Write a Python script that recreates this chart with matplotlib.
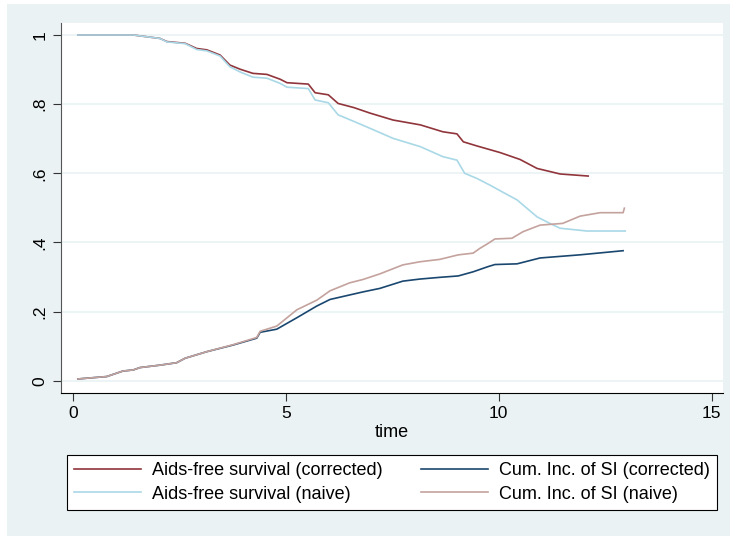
import matplotlib
matplotlib.use("Agg")
import matplotlib.pyplot as plt
from matplotlib.patches import Rectangle

plt.rcParams['font.family'] = ['Liberation Sans', 'DejaVu Sans']

# values
t_surv_corr = [0.12, 1.42, 1.8, 2.05, 2.21, 2.64, 2.91, 3.15, 3.46, 3.69, 3.93, 4.23,
               4.56, 4.87, 5.03, 5.53, 5.69, 6.0, 6.23, 6.6, 6.98, 7.52, 8.16, 8.69,
               9.02, 9.17, 9.49, 10.03, 10.5, 10.9, 11.44, 12.1]
surv_corr = [1.0, 1.0, 0.994, 0.990, 0.981, 0.976, 0.961, 0.957, 0.942, 0.913, 0.901, 0.889,
             0.886, 0.872, 0.862, 0.858, 0.833, 0.827, 0.802, 0.79, 0.774, 0.754, 0.740, 0.720,
             0.714, 0.691, 0.679, 0.660, 0.64, 0.614, 0.598, 0.592]

t_surv_naive = [0.12, 1.42, 1.8, 2.05, 2.21, 2.64, 2.91, 3.15, 3.46, 3.69, 3.93, 4.23,
                4.56, 4.87, 5.03, 5.53, 5.69, 6.0, 6.23, 6.6, 6.98, 7.52, 8.16, 8.69,
                9.02, 9.2, 9.49, 9.79, 10.1, 10.43, 10.9, 11.2, 11.44, 12.07, 12.97]
surv_naive = [1.0, 1.0, 0.994, 0.990, 0.980, 0.975, 0.958, 0.954, 0.939, 0.908, 0.893, 0.878,
              0.875, 0.860, 0.849, 0.845, 0.812, 0.804, 0.769, 0.75, 0.730, 0.701, 0.677, 0.648,
              0.638, 0.600, 0.585, 0.566, 0.545, 0.523, 0.474, 0.455, 0.441, 0.433, 0.433]

t_ci_corr = [0.12, 0.8, 1.18, 1.42, 1.58, 2.05, 2.44, 2.64, 3.15, 3.76, 4.32, 4.4, 4.79,
             5.26, 5.73, 6.04, 6.5, 6.82, 7.21, 7.75, 8.15, 8.62, 9.05, 9.4, 9.75, 9.91,
             10.43, 10.97, 11.9, 12.92]
ci_corr = [0.005, 0.012, 0.028, 0.031, 0.038, 0.045, 0.052, 0.065, 0.084, 0.103, 0.123, 0.140, 0.149,
           0.182, 0.216, 0.235, 0.248, 0.257, 0.267, 0.288, 0.294, 0.299, 0.303, 0.315, 0.330, 0.336,
           0.338, 0.355, 0.364, 0.376]

t_ci_naive = [0.12, 0.8, 1.18, 1.42, 1.58, 2.05, 2.44, 2.64, 3.15, 3.76, 4.32, 4.4, 4.79,
              5.26, 5.73, 6.04, 6.5, 6.82, 7.21, 7.75, 8.15, 8.62, 9.05, 9.4, 9.56, 9.75,
              9.91, 10.31, 10.57, 10.97, 11.5, 11.91, 12.38, 12.92, 12.95]
ci_naive = [0.005, 0.012, 0.028, 0.031, 0.038, 0.045, 0.052, 0.065, 0.084, 0.104, 0.125, 0.143, 0.158,
            0.205, 0.233, 0.260, 0.283, 0.293, 0.309, 0.335, 0.344, 0.351, 0.364, 0.369, 0.383, 0.397,
            0.410, 0.412, 0.431, 0.450, 0.455, 0.476, 0.486, 0.486, 0.499]

labels = ['Aids-free survival (corrected)', 'Aids-free survival (naive)',
          'Cum. Inc. of SI (corrected)', 'Cum. Inc. of SI (naive)']
xticks = [0, 5, 10, 15]
yticks = [0, 0.2, 0.4, 0.6, 0.8, 1]
yticklabels = ['0', '.2', '.4', '.6', '.8', '1']

bg = '#eaf2f3'
W, H = 730, 536
fig = plt.figure(figsize=(W / 100, H / 100), dpi=100)
fig.patch.set_facecolor('white')
fig.patches.append(Rectangle((7 / W, 0), 1, 1 - 4 / H, transform=fig.transFigure,
                             facecolor=bg, edgecolor='none', zorder=-10))

ax = fig.add_axes([61 / W, 1 - 393 / H, 662 / W, 370 / H])
ax.set_facecolor('white')

l1, = ax.plot(t_surv_corr, surv_corr, color='#90353b', lw=1.2)
l2, = ax.plot(t_surv_naive, surv_naive, color='#a9d8e6', lw=1.2)
l3, = ax.plot(t_ci_corr, ci_corr, color='#1a476f', lw=1.2)
l4, = ax.plot(t_ci_naive, ci_naive, color='#c4a29d', lw=1.2)

ax.set_xlim(-0.275, 15.265)
ax.set_ylim(-0.0356, 1.0347)
ax.set_xticks(xticks)
ax.set_yticks(yticks)
ax.set_yticklabels(yticklabels, rotation=90, va='center')
ax.tick_params(axis='both', labelsize=12.5, length=6, width=0.8, color='#333333')
ax.grid(axis='y', color=bg, lw=1.2)
ax.set_axisbelow(True)
for s in ['top', 'right']:
    ax.spines[s].set_visible(False)
ax.spines['left'].set_color('#555555')
ax.spines['bottom'].set_color('black')
ax.set_xlabel('time', fontsize=13, labelpad=2)

leg = fig.legend([l1, l2, l3, l4], labels, ncol=2, mode='expand',
                 bbox_to_anchor=(67 / W, 1 - 513 / H, 650 / W, 61 / H), loc='center',
                 fontsize=13, handlelength=3.7, columnspacing=1.3, handletextpad=0.6,
                 labelspacing=0.35, fancybox=False, frameon=True, framealpha=1,
                 borderaxespad=0)
leg.get_frame().set_edgecolor('black')
leg.get_frame().set_facecolor('white')
leg.get_frame().set_linewidth(0.8)

fig.savefig('out.png', dpi=100, facecolor=fig.get_facecolor())
